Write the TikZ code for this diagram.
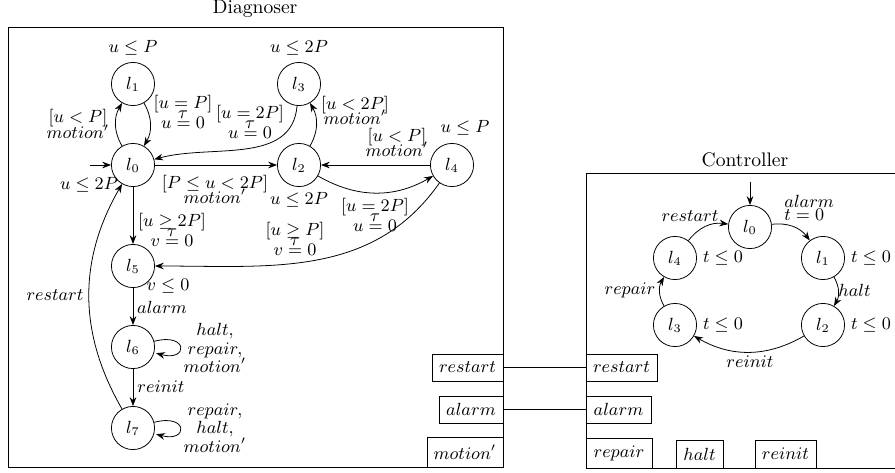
\documentclass[tikz,border=0pt]{standalone}
\usetikzlibrary{arrows.meta}
\begin{document}
\begin{tikzpicture}[x=0.51pt,y=-0.51pt,
  >={Stealth[length=4.5pt,width=3.4pt]},
  every node/.style={font=\small},
  title/.style={font=\normalsize},
  state/.style={circle,draw,minimum size=22pt,inner sep=0pt},
  port/.style={draw,inner sep=0pt},
  lbl/.style={inner sep=0pt,align=center},
  every edge/.style={draw,->}]
\useasboundingbox (0,0) rectangle (895,472);
% ---------- Diagnoser ----------
\node[title] (dtitle) at (255,9) {Diagnoser};
\draw (8,27) rectangle (503,467);
\node[state] (d0) at (133,165) {$l_0$};
\node[state] (d1) at (133,84) {$l_1$};
\node[state] (d3) at (299,84) {$l_3$};
\node[state] (d2) at (299,165) {$l_2$};
\node[state] (d4) at (452,165) {$l_4$};
\node[state] (d5) at (133,266) {$l_5$};
\node[state] (d6) at (133,347) {$l_6$};
\node[state] (d7) at (133,428) {$l_7$};
\coordinate (din) at (90,165);
\draw[->] (din) -- (d0);
\path (d0) edge[bend left=30] (d1)
      (d1) edge[bend left=30] (d0)
      (d0) edge (d2)
      (d3) edge[out=-95,in=15] (d0)
      (d2) edge[bend right=30] (d3)
      (d4) edge (d2)
      (d2) edge[bend right=30] (d4)
      (d4) edge[out=-125,in=0] (d5)
      (d0) edge (d5)
      (d5) edge (d6)
      (d6) edge (d7)
      (d6) edge[loop right] (d6)
      (d7) edge[loop right] (d7)
      (d7) edge[bend left=30] (d0);
% invariants
\node[lbl] (i1) at (133,48) {$u \leq P$};
\node[lbl] (i3) at (299,48) {$u \leq 2P$};
\node[lbl] (i4) at (465,128) {$u \leq P$};
\node[lbl] (i2) at (299,200) {$u \leq 2P$};
\node[lbl] (i0) at (89,185) {$u \leq 2P$};
\node[lbl] (i5) at (168,286) {$v \leq 0$};
% edge labels
\node[lbl] (e01) at (78,124) {$[u<P]$\\[-2.5pt]$motion'$};
\node[lbl] (e10) at (183,112) {$[u=P]$\\[-6pt]$\tau$\\[-6pt]$u=0$};
\node[lbl] (e30) at (250,122) {$[u=2P]$\\[-6pt]$\tau$\\[-6pt]$u=0$};
\node[lbl] (e23) at (355,110) {$[u<2P]$\\[-3.3pt]$motion'$};
\node[lbl] (e42) at (397,142) {$[u<P]$\\[-3.3pt]$motion'$};
\node[lbl] (e02) at (215,189) {$[P\leq u<2P]$\\[-3.3pt]$motion'$};
\node[lbl] (e24) at (375,215) {$[u=2P]$\\[-6pt]$\tau$\\[-6pt]$u=0$};
\node[lbl] (e45) at (295,239) {$[u\geq P]$\\[-6pt]$\tau$\\[-6pt]$v=0$};
\node[lbl] (e05) at (172,230) {$[u\geq 2P]$\\[-6pt]$\tau$\\[-6pt]$v=0$};
\node[lbl] (e56) at (162,307) {$alarm$};
\node[lbl] (e67) at (161,387) {$reinit$};
\node[lbl] (e66) at (215,348) {$halt,$\\[-1.7pt]$repair,$\\[-1.7pt]$motion'$};
\node[lbl] (e77) at (215,428) {$repair,$\\[-1.7pt]$halt,$\\[-1.7pt]$motion'$};
\node[lbl] (e70) at (55,295) {$restart$};
% ports
\node[port,minimum width=36.2pt,minimum height=13.8pt] (dres) at (467.5,367.5) {$restart$};
\node[port,minimum width=32.6pt,minimum height=13.8pt] (dal) at (471,409.5) {$alarm$};
\node[port,minimum width=38.8pt,minimum height=15.3pt] (dmot) at (465,452) {$motion'$};
% ---------- Controller ----------
\node[title] (ctitle) at (745,160) {Controller};
\begin{scope}
  \clip (0,0) rectangle (895,472);
  \draw (586,173) rectangle (930,468);
\end{scope}
\node[state] (c0) at (750,227) {$l_0$};
\node[state] (c1) at (823,258) {$l_1$};
\node[state] (c2) at (823,325) {$l_2$};
\node[state] (c3) at (675,325) {$l_3$};
\node[state] (c4) at (675,258) {$l_4$};
\coordinate (cin) at (750,182);
\draw[->] (cin) -- (c0);
\path (c0) edge[bend left=30] (c1)
      (c1) edge[bend left=30] (c2)
      (c2) edge[bend left=30] (c3)
      (c3) edge[bend left=30] (c4)
      (c4) edge[bend left=30] (c0);
\node[lbl] (t1) at (871,258) {$t\leq 0$};
\node[lbl] (t2) at (871,325) {$t\leq 0$};
\node[lbl] (t3) at (723,325) {$t\leq 0$};
\node[lbl] (t4) at (723,258) {$t\leq 0$};
\node[lbl,align=left,anchor=west] (f01) at (784,208) {$alarm$\\[-4.2pt]$t=0$};
\node[lbl,anchor=west] (f12) at (838,290) {$halt$};
\node[lbl] (f23) at (750,362) {$reinit$};
\node[lbl] (f34) at (630,290) {$repair$};
\node[lbl] (f40) at (690,216) {$restart$};
\node[port,minimum width=36.2pt,minimum height=13.8pt] (cres) at (621.5,367.5) {$restart$};
\node[port,minimum width=33.2pt,minimum height=13.8pt] (cal) at (618.5,409.5) {$alarm$};
\node[port,minimum width=33.7pt,minimum height=15.3pt] (crep) at (619,453) {$repair$};
\node[port,minimum width=24pt,minimum height=14.3pt] (chalt) at (699.5,454) {$halt$};
\node[port,minimum width=31.1pt,minimum height=14.3pt] (crei) at (785.5,454) {$reinit$};
\draw (dres) -- (cres);
\draw (dal) -- (cal);
\end{tikzpicture}
\end{document}
